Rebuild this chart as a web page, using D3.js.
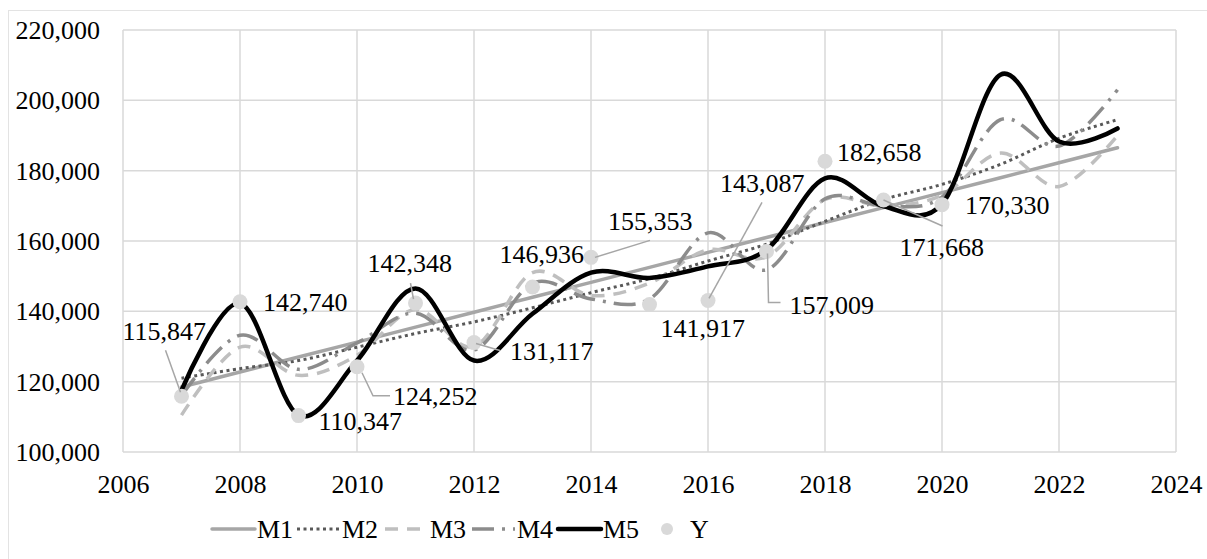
<!DOCTYPE html>
<html>
<head>
<meta charset="utf-8">
<script src="https://cdn.jsdelivr.net/npm/d3@7"></script>
<style>
  body { margin: 0; background: #fff; }
</style>
</head>
<body>
<svg id="chart" width="1207" height="559"></svg>
<script>
// years of the series
const years = [2007, 2008, 2009, 2010, 2011, 2012, 2013, 2014, 2015, 2016, 2017, 2018, 2019, 2020, 2021, 2022, 2023];

// model lines
const m1 = [118500, 122750, 127000, 131250, 135500, 139750, 144000, 148250, 152500, 156750, 161000, 165250, 169500, 173750, 178000, 182250, 186500];
const m2 = [121000, 123700, 126000, 129800, 133700, 137000, 141000, 145300, 149300, 154300, 159100, 165600, 171800, 176100, 181800, 189200, 194500];
const m3 = [110500, 129800, 121800, 127500, 140500, 130000, 151000, 144500, 148000, 157500, 155500, 171800, 170000, 173000, 185000, 175500, 190000];
const m4 = [116000, 133200, 123500, 131000, 139500, 129000, 148000, 143500, 143500, 162300, 151800, 172000, 170000, 172500, 194500, 187000, 203000];
const m5 = [117500, 142300, 110500, 126000, 146500, 126000, 139300, 151000, 149500, 152800, 157500, 177800, 169900, 170500, 207300, 188300, 192000];

// observed values
const yYears = [2007, 2008, 2009, 2010, 2011, 2012, 2013, 2014, 2015, 2016, 2017, 2018, 2019, 2020];
const yValues = [115847, 142740, 110347, 124252, 142348, 131117, 146936, 155353, 141917, 143087, 157009, 182658, 171668, 170330];

// axis ticks
const xTicks = [2006, 2008, 2010, 2012, 2014, 2016, 2018, 2020, 2022, 2024];
const yTicks = [100000, 120000, 140000, 160000, 180000, 200000, 220000];

const seriesNames = ["M1", "M2", "M3", "M4", "M5", "Y"];

// label placement: text left edge / vertical centre, and leader line, relative to the point
const labelLayout = [
  {dx: -59, dy: -65, leader: [[-16, -46], [-1, -4]]},
  {dx: 23, dy: 1},
  {dx: 20, dy: 6},
  {dx: 36, dy: 30, leader: [[5, 6], [16, 29], [33, 29]]},
  {dx: -48, dy: -40, leader: [[-5, -20], [-2, -4]]},
  {dx: 36, dy: 9, leader: [[2, 1], [26, 8]]},
  {dx: -33, dy: -33},
  {dx: 17, dy: -36, leader: [[4, 0], [59, -17]]},
  {dx: 11, dy: 24},
  {dx: 12, dy: -117, leader: [[54, -98], [1, -2]]},
  {dx: 23, dy: 54, leader: [[1, 2], [2, 51], [14, 51]]},
  {dx: 12, dy: -9},
  {dx: 16, dy: 47, leader: [[0, 0], [59, 26]]},
  {dx: 23, dy: 1}
];

const font = "'Liberation Serif', 'Times New Roman', 'DejaVu Serif', serif";
const fontSize = "26px";
const grid = "#d9d9d9";
const margin = {top: 30, right: 31, bottom: 107, left: 123};
const width = 1207, height = 559;

const svg = d3.select("#chart").attr("font-family", font);

// outer chart border
svg.append("rect")
  .attr("x", 8.5).attr("y", 10.5)
  .attr("width", 1210).attr("height", 560)
  .style("fill", "none")
  .style("stroke", "#e3e3e3")
  .style("stroke-width", 1);

const x = d3.scaleLinear().domain([2006, 2024]).range([margin.left, width - margin.right]);
const y = d3.scaleLinear().domain([100000, 220000]).range([height - margin.bottom, margin.top]);

// gridlines
svg.append("g").selectAll("line")
  .data(xTicks).enter().append("line")
  .attr("x1", d => x(d)).attr("x2", d => x(d))
  .attr("y1", y(220000)).attr("y2", y(100000))
  .style("stroke", grid).style("stroke-width", 1.5);

svg.append("g").selectAll("line")
  .data(yTicks).enter().append("line")
  .attr("x1", x(2006)).attr("x2", x(2024))
  .attr("y1", d => y(d)).attr("y2", d => y(d))
  .style("stroke", grid).style("stroke-width", 1.5);

// axes (labels only)
const yAxis = d3.axisLeft(y).tickValues(yTicks).tickFormat(d3.format(",")).tickSize(0).tickPadding(23);
const gy = svg.append("g").attr("transform", `translate(${margin.left},0)`).call(yAxis);
gy.attr("font-family", font).attr("font-size", fontSize);
gy.select(".domain").remove();
gy.selectAll("text").attr("dy", "0.33em").attr("fill", "#000");

const xAxis = d3.axisBottom(x).tickValues(xTicks).tickFormat(d3.format("d")).tickSize(0).tickPadding(0);
const gx = svg.append("g").attr("transform", `translate(0,${y(100000)})`).call(xAxis);
gx.attr("font-family", font).attr("font-size", fontSize);
gx.select(".domain").remove();
gx.selectAll("text").attr("dy", null).attr("y", 41).attr("fill", "#000");

// lines
const styles = [
  {data: m1, color: "#a6a6a6", w: 3.5, dash: null},
  {data: m2, color: "#595959", w: 3, dash: "3,3.5"},
  {data: m3, color: "#bfbfbf", w: 3.5, dash: "13,9"},
  {data: m4, color: "#8c8c8c", w: 3.5, dash: "22,8,3,8"},
  {data: m5, color: "#000000", w: 4.5, dash: null}
];

const smooth = d3.line()
  .x((d, i) => x(years[i]))
  .y(d => y(d))
  .curve(d3.curveCardinal.tension(0));

const straight = d3.line()
  .x((d, i) => x(years[i]))
  .y(d => y(d));

styles.forEach((s, i) => {
  svg.append("path")
    .datum(s.data)
    .attr("d", i === 0 ? straight : smooth)
    .style("fill", "none")
    .style("stroke", s.color)
    .style("stroke-width", s.w)
    .style("stroke-dasharray", s.dash)
    .style("stroke-linecap", s.dash ? "butt" : "round");
});

// observed points
const pts = yYears.map((yr, i) => ({year: yr, value: yValues[i], layout: labelLayout[i]}));

svg.append("g").selectAll("circle")
  .data(pts).enter().append("circle")
  .attr("cx", d => x(d.year))
  .attr("cy", d => y(d.value))
  .attr("r", 7.5)
  .style("fill", "#d9d9d9");

// leader lines
pts.filter(d => d.layout.leader).forEach(d => {
  const px = x(d.year), py = y(d.value);
  svg.append("path")
    .attr("d", d3.line()(d.layout.leader.map(p => [px + p[0], py + p[1]])))
    .style("fill", "none")
    .style("stroke", "#a6a6a6")
    .style("stroke-width", 1.5);
});

// data labels
svg.append("g").selectAll("text")
  .data(pts).enter().append("text")
  .attr("x", d => x(d.year) + d.layout.dx)
  .attr("y", d => y(d.value) + d.layout.dy)
  .attr("dy", "0.33em")
  .attr("font-family", font)
  .attr("font-size", fontSize)
  .text(d => d3.format(",")(d.value));

// legend
const legendX = [212, 297, 385, 472, 558, 645];
const legendY = 529;
const legend = svg.append("g").attr("font-family", font).attr("font-size", fontSize);

seriesNames.forEach((name, i) => {
  const lx = legendX[i];
  if (i < 5) {
    const s = styles[i];
    legend.append("line")
      .attr("x1", lx).attr("x2", lx + 43)
      .attr("y1", legendY).attr("y2", legendY)
      .style("stroke", s.color)
      .style("stroke-width", s.w)
      .style("stroke-dasharray", s.dash)
      .style("stroke-linecap", s.dash ? "butt" : "round");
  } else {
    legend.append("circle")
      .attr("cx", lx + 22).attr("cy", legendY)
      .attr("r", 6)
      .style("fill", "#d9d9d9");
  }
  legend.append("text")
    .attr("x", lx + 45).attr("y", legendY).attr("dy", "0.33em")
    .text(name);
});
</script>
</body>
</html>
